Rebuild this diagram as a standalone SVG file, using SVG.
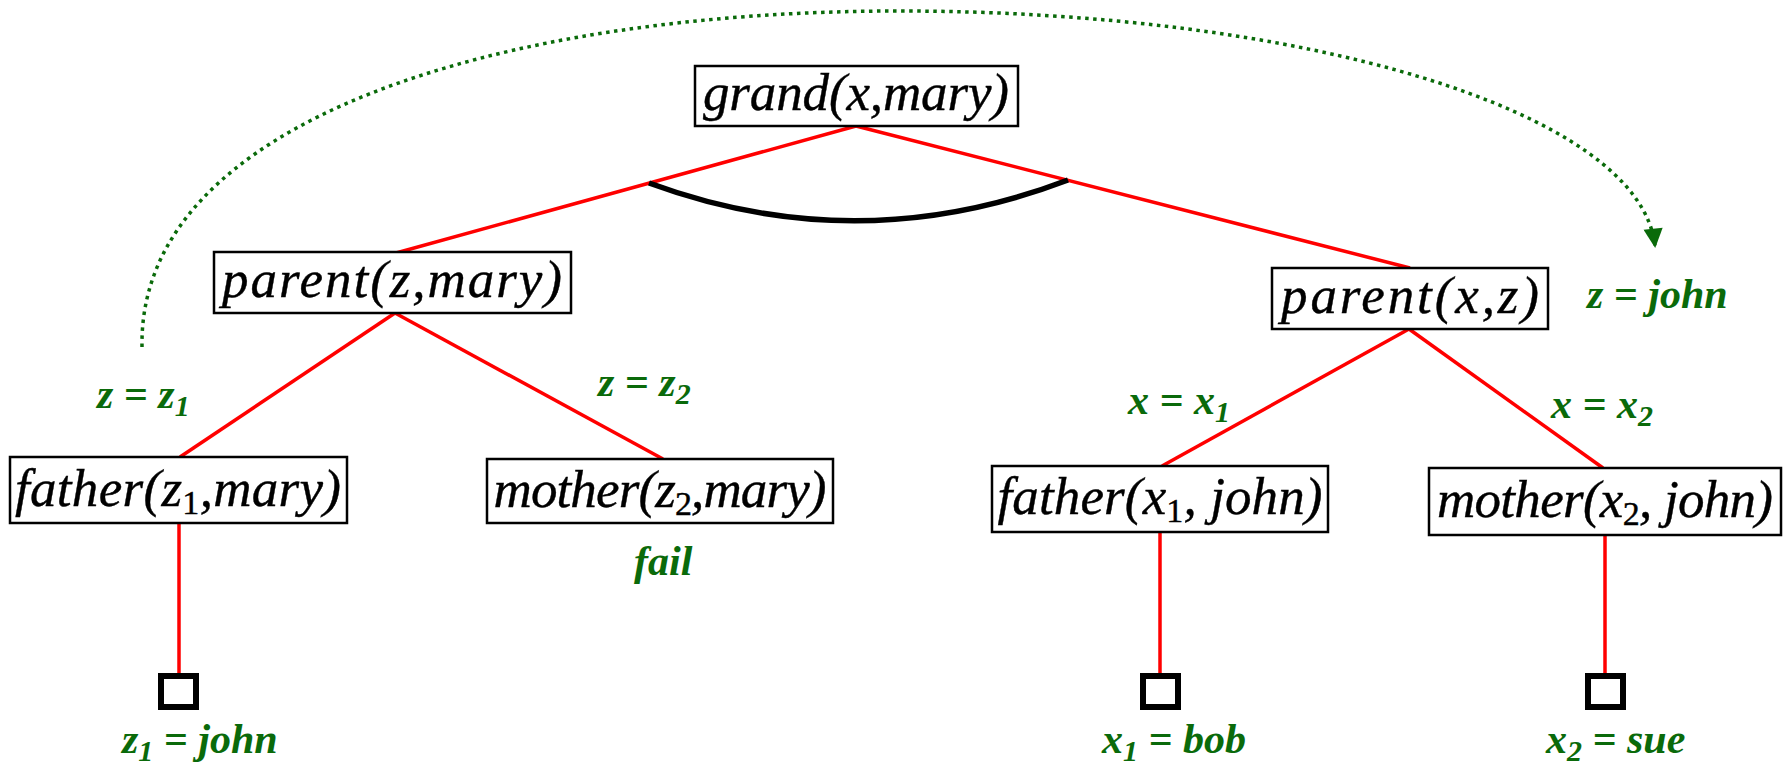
<svg xmlns="http://www.w3.org/2000/svg" width="1785" height="765" viewBox="0 0 1785 765">
<style>
.box{fill:#fff;stroke:#000;stroke-width:2.5}
.nt{font-family:"Liberation Serif","Times New Roman",serif;font-style:italic;font-size:53px;fill:#000;stroke:#000;stroke-width:0.4;text-anchor:middle}
.sub{font-style:normal;font-size:34px}
.edge{stroke:#ff0000;stroke-width:3.5;fill:none}
.lbl{font-family:"Liberation Serif","Times New Roman",serif;font-style:italic;font-weight:bold;font-size:42px;fill:#0a6a0a}
.lsub{font-size:30px}
.leaf{fill:none;stroke:#000;stroke-width:6}
</style>
<defs>
<marker id="arr" viewBox="0 0 10 10" refX="9" refY="5" markerWidth="6.5" markerHeight="5.5" orient="auto" markerUnits="strokeWidth">
<path d="M0,0 L10,5 L0,10 z" fill="#0a6a0a"/>
</marker>
</defs>
<g id="connectors">
<path class="edge" d="M856,126 L396,253"/>
<path class="edge" d="M856,126 L1410,268"/>
<path class="edge" d="M395,313 L180,457"/>
<path class="edge" d="M395,313 L663,459"/>
<path class="edge" d="M1409,329 L1162,466"/>
<path class="edge" d="M1409,329 L1603,468"/>
<path class="edge" d="M179,523 L179,675"/>
<path class="edge" d="M1160,532 L1160,675"/>
<path class="edge" d="M1605,535 L1605,675"/>
<path d="M649,183 Q858,260 1068,180" fill="none" stroke="#000" stroke-width="5.5"/>
<path d="M142,347 C138,120 500,11 900,11 C1300,11 1640,110 1655,246" fill="none" stroke="#0a6a0a" stroke-width="3.5" stroke-dasharray="3.5,4.5" marker-end="url(#arr)"/>
</g>
<g id="n-grand"><rect class="box" x="695" y="66" width="323" height="60"/><text class="nt" x="856" y="110" textLength="306">grand(x,mary)</text></g>
<g id="n-parent-z"><rect class="box" x="214" y="252" width="357" height="61"/><text class="nt" x="392" y="297" textLength="340">parent(z,mary)</text></g>
<g id="n-parent-x"><rect class="box" x="1272" y="268" width="276" height="61"/><text class="nt" x="1410" y="313" textLength="258">parent(x,z)</text></g>
<g id="n-father-z1"><rect class="box" x="10" y="457" width="337" height="66"/><text class="nt" x="178" y="506" textLength="326">father(z<tspan class="sub" dy="8">1</tspan><tspan dy="-8">,mary)</tspan></text></g>
<g id="n-mother-z2"><rect class="box" x="487" y="459" width="346" height="64"/><text class="nt" x="660" y="507" textLength="333">mother(z<tspan class="sub" dy="8">2</tspan><tspan dy="-8">,mary)</tspan></text></g>
<g id="n-father-x1"><rect class="box" x="992" y="466" width="336" height="66"/><text class="nt" x="1160" y="514" textLength="325">father(x<tspan class="sub" dy="8">1</tspan><tspan dy="-8">, john)</tspan></text></g>
<g id="n-mother-x2"><rect class="box" x="1429" y="468" width="352" height="67"/><text class="nt" x="1605" y="517" textLength="336">mother(x<tspan class="sub" dy="8">2</tspan><tspan dy="-8">, john)</tspan></text></g>
<g id="leaf-z1"><rect class="leaf" x="161" y="676" width="35" height="31"/></g>
<g id="leaf-x1"><rect class="leaf" x="1143" y="676" width="35" height="31"/></g>
<g id="leaf-x2"><rect class="leaf" x="1588" y="676" width="35" height="31"/></g>
<g id="labels">
<text class="lbl" x="97" y="408">z = z<tspan class="lsub" dy="8">1</tspan></text>
<text class="lbl" x="598" y="396">z = z<tspan class="lsub" dy="8">2</tspan></text>
<text class="lbl" x="1128" y="414">x = x<tspan class="lsub" dy="8">1</tspan></text>
<text class="lbl" x="1551" y="418">x = x<tspan class="lsub" dy="8">2</tspan></text>
<text class="lbl" x="1587" y="308">z = john</text>
<text class="lbl" x="634" y="575">fail</text>
<text class="lbl" x="122" y="753">z<tspan class="lsub" dy="8">1</tspan><tspan dy="-8"> = john</tspan></text>
<text class="lbl" x="1102" y="753">x<tspan class="lsub" dy="8">1</tspan><tspan dy="-8"> = bob</tspan></text>
<text class="lbl" x="1546" y="753">x<tspan class="lsub" dy="8">2</tspan><tspan dy="-8"> = sue</tspan></text>
</g>
</svg>
